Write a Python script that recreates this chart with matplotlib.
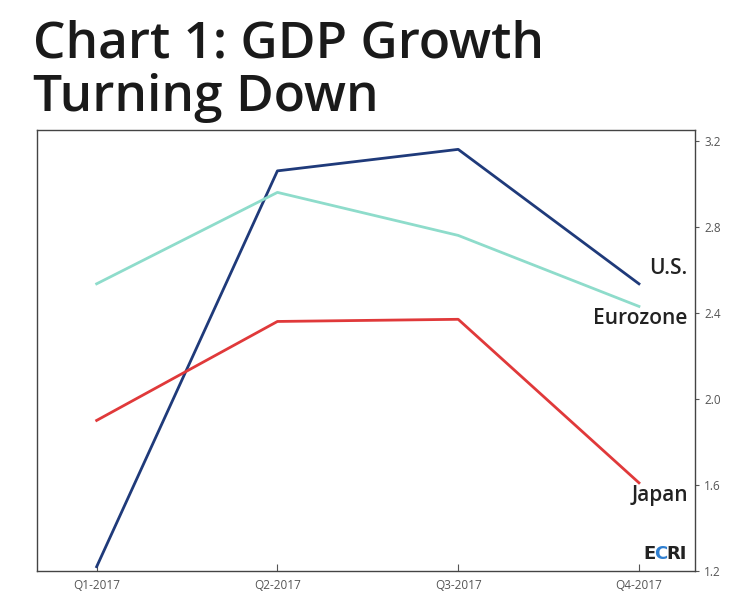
import matplotlib.pyplot as plt
from matplotlib.offsetbox import TextArea, HPacker, AnchoredOffsetbox

quarters = ['Q1-2017', 'Q2-2017', 'Q3-2017', 'Q4-2017']
us = [1.22, 3.06, 3.16, 2.535]
eurozone = [2.535, 2.96, 2.76, 2.43]
japan = [1.90, 2.36, 2.37, 1.61]
yticks = [1.2, 1.6, 2.0, 2.4, 2.8, 3.2]

plt.rcParams['font.family'] = ['Open Sans', 'DejaVu Sans']

fig = plt.figure(figsize=(7.41, 6.10), dpi=100)
ax = fig.add_axes([37/741, 1-571/610, (695-37)/741, (571-130)/610])

x = range(len(quarters))
ax.plot(x, us, color='#1f3a7a', lw=2)
ax.plot(x, eurozone, color='#8edccb', lw=2)
ax.plot(x, japan, color='#e0393a', lw=2)

ax.set_xlim(-0.33, 3.31)
ax.set_ylim(1.2, 3.25)
ax.set_xticks(list(x))
ax.set_xticklabels(quarters)
ax.set_yticks(yticks)
ax.set_yticklabels(['%.1f' % v for v in yticks])
ax.yaxis.tick_right()
ax.tick_params(axis='x', direction='in', length=5, colors='#555555', labelsize=8.5, pad=6)
ax.tick_params(axis='y', direction='out', length=3, colors='#555555', labelsize=8.5)
for s in ax.spines.values():
    s.set_color('#444444')
    s.set_linewidth(1)

lab = dict(ha='right', va='center', fontsize=15, color='#222222', fontweight='semibold')
ax.text(3.27, 2.605, 'U.S.', **lab)
ax.text(3.27, 2.375, 'Eurozone', **lab)
ax.text(3.27, 1.55, 'Japan', **lab)

# ECRI logo
logo_prop = dict(fontsize=13, fontweight='heavy', family='DejaVu Sans')
parts = [TextArea(t, textprops=dict(color=c, **logo_prop))
         for t, c in [('E', '#222222'), ('C', '#2f7fd0'), ('RI', '#222222')]]
box = AnchoredOffsetbox(loc='lower right', child=HPacker(children=parts, pad=0, sep=-1),
                        pad=0.2, borderpad=0.4, frameon=False)
ax.add_artist(box)

fig.text(33/741, 1-45/610, 'Chart 1: GDP Growth', fontsize=37, color='#1a1a1a',
         ha='left', va='center', fontweight='semibold')
fig.text(33/741, 1-98/610, 'Turning Down', fontsize=37, color='#1a1a1a',
         ha='left', va='center', fontweight='semibold')

fig.savefig('out.png', dpi=100, facecolor='white')
